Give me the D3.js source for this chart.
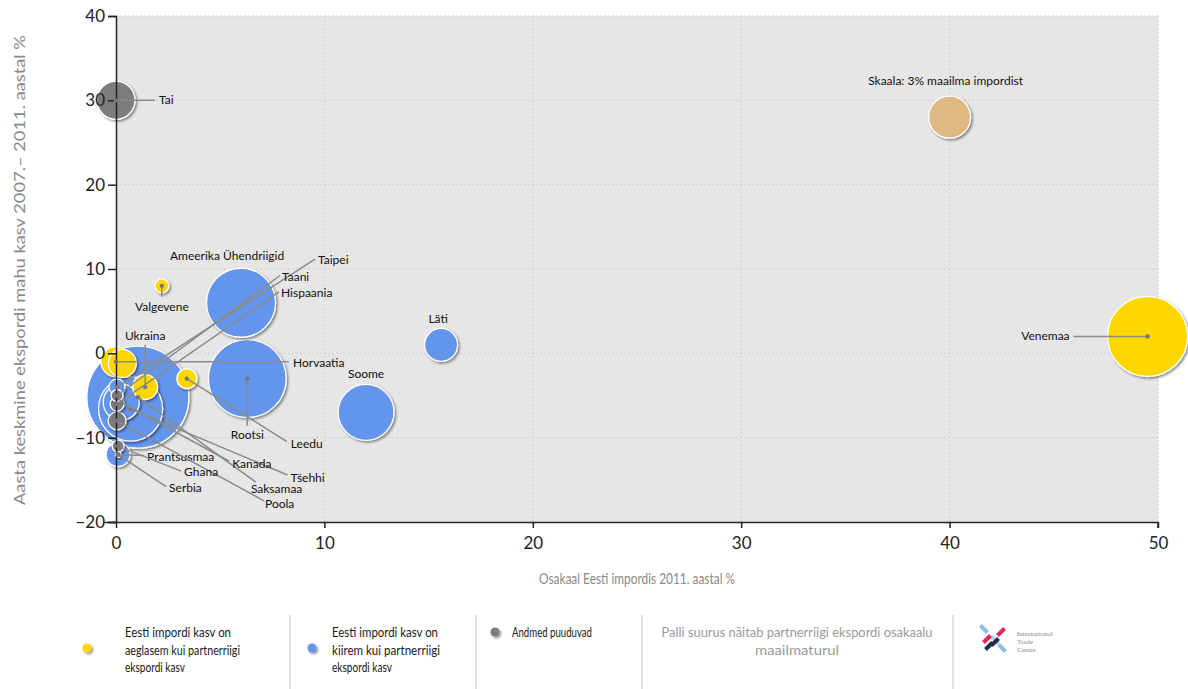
<!DOCTYPE html>
<html><head><meta charset="utf-8">
<script src="https://cdn.jsdelivr.net/npm/d3@7"></script>
<style>
body{margin:0;background:#fff}
text{font-family:Lato,"Open Sans",sans-serif}
</style>
</head><body>
<svg id="c" width="1188" height="689"></svg>
<script>
// ---------- data ----------
const names      = ["Saksamaa","Venemaa","Rootsi","Ameerika Ühendriigid","Tšehhi","Soome","Skaala: 3% maailma impordist","Tai","Kanada","Läti","Horvaatia","","Ukraina","Prantsusmaa","Leedu","Poola","Taipei","Valgevene","Hispaania","Taani","Ghana","Serbia"];
const shareX     = [1.05, 49.5, 6.3, 6.0, 0.7, 12.0, 40.0, 0.0, 0.25, 15.6, 0.0, 0.3, 1.4, 0.1, 3.4, 0.05, 0.05, 2.2, 0.05, 0.05, 0.1, 0.1];
const growthY    = [-5.2, 2.0, -3.0, 6.0, -6.6, -7.0, 28.0, 30.0, -5.8, 1.0, -1.0, -1.2, -4.0, -12.0, -3.0, -8.0, -4.0, 8.0, -6.0, -5.0, -11.0, -12.0];
const worldShare = [17.7, 10.9, 10.3, 8.1, 7.0, 5.3, 3.0, 2.46, 2.2, 1.85, 1.53, 1.33, 1.05, 0.98, 0.68, 0.55, 0.44, 0.33, 0.33, 0.24, 0.24, 0.05];
const group      = ["fast","slow","fast","fast","fast","fast","scale","na","fast","fast","slow","slow","slow","fast","slow","na","fast","slow","na","na","na","fast"];
const xTicks = [0,10,20,30,40,50];
const yTicks = [-20,-10,0,10,20,30,40];
const xTitle = "Osakaal Eesti impordis 2011. aastal %";
const yTitle = "Aasta keskmine ekspordi mahu kasv 2007.– 2011. aastal %";
const legendItems = [
  {g:"slow", lines:["Eesti impordi kasv on","aeglasem kui partnerriigi","ekspordi kasv"]},
  {g:"fast", lines:["Eesti impordi kasv on","kiirem kui partnerriigi","ekspordi kasv"]},
  {g:"na",   lines:["Andmed puuduvad"]}
];
const sizeNote = ["Palli suurus näitab partnerriigi ekspordi osakaalu","maailmaturul"];

// ---------- layout / style ----------
const colors = {slow:"#ffd700", fast:"#6495ed", na:"#7b7b7b", scale:"#dfb883"};
// label placement: pixel offsets from bubble centre (t = text, l = leader end)
const labelPos = {
  "Tai":{tx:43,ty:4,a:"start",lx:39,ly:0},
  "Venemaa":{tx:-78,ty:4,a:"end",lx:-74,ly:0},
  "Läti":{tx:-3,ty:-22,a:"middle"},
  "Soome":{tx:0,ty:-34,a:"middle"},
  "Rootsi":{tx:0,ty:60,a:"middle",lx:0,ly:47},
  "Ameerika Ühendriigid":{tx:-14,ty:-43,a:"middle"},
  "Valgevene":{tx:0,ty:25,a:"middle",lx:0,ly:11},
  "Ukraina":{tx:0,ty:-47,a:"middle",lx:0,ly:-42},
  "Horvaatia":{tx:177,ty:5,a:"start",lx:173,ly:0},
  "Leedu":{tx:104,ty:69,a:"start",lx:100,ly:63},
  "Taipei":{tx:201,ty:-123,a:"start",lx:198,ly:-128},
  "Taani":{tx:165,ty:-115,a:"start",lx:163,ly:-120},
  "Hispaania":{tx:164,ty:-107,a:"start",lx:162,ly:-112},
  "Kanada":{tx:111,ty:66,a:"start",lx:108,ly:59},
  "Tšehhi":{tx:160,ty:73,a:"start",lx:157,ly:66},
  "Saksamaa":{tx:113,ty:96,a:"start",lx:118,ly:85},
  "Poola":{tx:148,ty:87,a:"start",lx:147,ly:80},
  "Ghana":{tx:66,ty:30,a:"start",lx:63,ly:25},
  "Prantsusmaa":{tx:29,ty:6,a:"start",lx:26,ly:1},
  "Serbia":{tx:51,ty:37,a:"start",lx:48,ly:32},
  "Skaala: 3% maailma impordist":{tx:-4,ty:-32,a:"middle"}
};

const svg = d3.select("#c");
const m = {l:116, r:1158, t:16, b:522};
const x = d3.scaleLinear().domain([0,50]).range([m.l,m.r]);
const y = d3.scaleLinear().domain([-20,40]).range([m.b,m.t]);
const r = d3.scaleSqrt().domain([0,3]).range([0,21]);

const defs = svg.append("defs");
const f = defs.append("filter").attr("id","sh").attr("x","-30%").attr("y","-30%").attr("width","170%").attr("height","170%");
f.append("feDropShadow").attr("dx",1.6).attr("dy",1.6).attr("stdDeviation",1.3).attr("flood-color","#000").attr("flood-opacity",0.45);

// background
svg.append("rect").attr("x",m.l).attr("y",m.t).attr("width",m.r-m.l).attr("height",m.b-m.t).attr("fill","#e6e6e6");
// grid
svg.append("g").selectAll("line.v").data(xTicks.slice(1)).join("line")
  .attr("x1",d=>x(d)).attr("x2",d=>x(d)).attr("y1",m.t).attr("y2",m.b)
  .attr("stroke","#cfcfcf").attr("stroke-dasharray","2,2");
svg.append("g").selectAll("line.h").data(yTicks.slice(1)).join("line")
  .attr("x1",m.l).attr("x2",m.r).attr("y1",d=>y(d)).attr("y2",d=>y(d))
  .attr("stroke","#cfcfcf").attr("stroke-dasharray","2,2");

// bubbles
const data = names.map((n,i)=>({name:n,x:shareX[i],y:growthY[i],s:worldShare[i],g:group[i]}));
const sorted = data.slice().sort((a,b)=>b.s-a.s);
svg.append("g").selectAll("circle").data(sorted).join("circle")
  .attr("cx",d=>x(d.x)).attr("cy",d=>y(d.y)).attr("r",d=>r(d.s))
  .attr("fill",d=>colors[d.g]).attr("stroke","#fff").attr("stroke-width",1.3)
  .attr("filter","url(#sh)");

// axes
const xa = svg.append("g").attr("transform",`translate(0,${m.b})`)
  .call(d3.axisBottom(x).tickValues(xTicks).tickSize(6).tickPadding(9).tickFormat(d3.format("d")));
const ya = svg.append("g").attr("transform",`translate(${m.l},0)`)
  .call(d3.axisLeft(y).tickValues(yTicks).tickSize(8).tickPadding(3).tickFormat(d=>d<0?"\u2212"+Math.abs(d):d));
[xa,ya].forEach(a=>{
  a.select(".domain").attr("stroke","#222").attr("stroke-width",1.5);
  a.selectAll(".tick line").attr("stroke","#222").attr("stroke-width",1.5);
  a.selectAll(".tick text").attr("font-size",17).attr("fill","#222").style("font-family","Lato, sans-serif");
});
xa.select(".domain").attr("d",`M${m.l-12},0.5H${m.r}V6`);

// leaders + labels
const lab = svg.append("g");
data.forEach(d=>{
  const p = labelPos[d.name]; if(!p) return;
  const cx = x(d.x), cy = y(d.y);
  if(p.lx!==undefined){
    lab.append("line").attr("x1",cx).attr("y1",cy).attr("x2",cx+p.lx).attr("y2",cy+p.ly)
      .attr("stroke","#8a8a8a").attr("stroke-width",1.5);
    lab.append("circle").attr("cx",cx).attr("cy",cy).attr("r",2.2).attr("fill","#777");
  }
  lab.append("text").attr("x",cx+p.tx).attr("y",cy+p.ty).attr("text-anchor",p.a)
    .attr("font-size",12).attr("fill","#111").text(d.name);
});

// axis titles
svg.append("text").attr("x",637).attr("y",584).attr("text-anchor","middle")
  .attr("font-size",15).attr("fill","#8a8a8a").attr("textLength",196).attr("lengthAdjust","spacingAndGlyphs").text(xTitle);
svg.append("text").attr("transform","translate(25,270) rotate(-90)").attr("text-anchor","middle")
  .attr("font-size",15).attr("fill","#8a8a8a").attr("textLength",470).attr("lengthAdjust","spacingAndGlyphs").text(yTitle);

// legend
const lg = svg.append("g");
[290,476,642,953].forEach(v=>lg.append("line").attr("x1",v).attr("x2",v).attr("y1",615).attr("y2",689).attr("stroke","#c4c4c4"));
const legX = [{dot:87,dy:648,tx:125},{dot:312,dy:648,tx:332},{dot:495,dy:632,tx:512}];
const legW = [[106,115,60],[106,108,60],[80]];
legendItems.forEach((it,i)=>{
  const p = legX[i];
  lg.append("circle").attr("cx",p.dot).attr("cy",p.dy).attr("r",4.5).attr("fill",colors[it.g]).attr("filter","url(#sh)");
  it.lines.forEach((t,j)=>{
    lg.append("text").attr("x",p.tx).attr("y",637+j*17.5).attr("font-size",13).attr("fill","#1a1a1a")
      .attr("textLength",legW[i][j]).attr("lengthAdjust","spacingAndGlyphs").text(t);
  });
});
sizeNote.forEach((t,j)=>{
  lg.append("text").attr("x",797).attr("y",637+j*17.5).attr("text-anchor","middle").attr("font-size",13)
    .attr("fill","#9a9a9a").attr("textLength",j===0?271:84).attr("lengthAdjust","spacingAndGlyphs").text(t);
});
// ITC logo
const lo = lg.append("g").attr("transform","translate(996,641)");
const bars = [
  {c:"#8cc0e6",x:-12,y:-12,a:45},{c:"#e8245a",x:5,y:-9,a:-45},{c:"#1d2b4c",x:-7,y:5,a:-45},
  {c:"#8cc0e6",x:6,y:7,a:45},{c:"#b0d2ee",x:-1,y:-1,a:45},{c:"#1d2b4c",x:-1,y:1,a:-45},{c:"#e8245a",x:-9,y:-2,a:-45}
];
bars.forEach(b=>lo.append("rect").attr("x",-5).attr("y",-2).attr("width",10).attr("height",4)
  .attr("fill",b.c).attr("transform",`translate(${b.x},${b.y}) rotate(${b.a})`));
["International","Trade","Centre"].forEach((t,j)=>lg.append("text").attr("x",1017).attr("y",636+j*8)
  .attr("font-size",7).attr("fill","#888").style("font-family","'Liberation Serif',serif").text(t));
</script>
</body></html>
